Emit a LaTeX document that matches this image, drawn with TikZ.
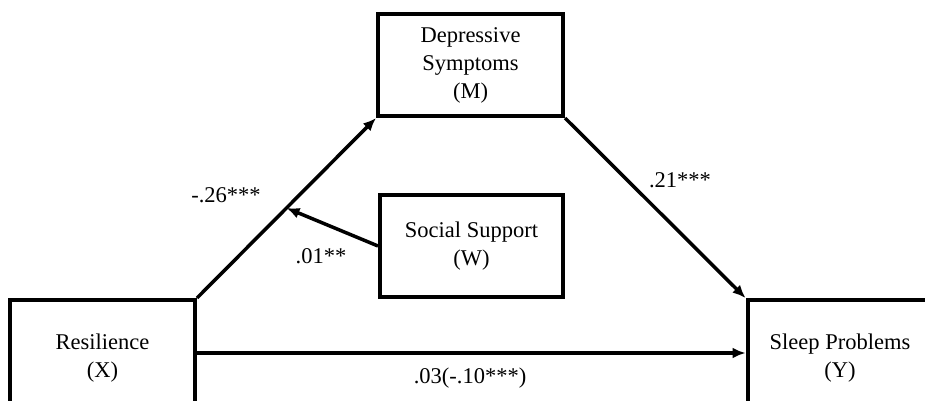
\documentclass[tikz,border=0pt]{standalone}
\usepackage{fontspec}
\setmainfont{Liberation Serif}
\usetikzlibrary{arrows.meta, calc}

\newcommand{\pathfont}{\fontsize{22.5}{28}\selectfont}
\tikzset{
    varbox/.style={draw, line width=4pt, minimum width=185pt, align=center,
        font=\pathfont, inner sep=0pt},
    effect/.style={line width=3.5pt, -{Latex[length=13pt,width=11pt]}},
    coef/.style={font=\pathfont, inner sep=1pt}
}

\begin{document}
\begin{tikzpicture}[x=1pt, y=-1pt]
        % Page frame (pixel grid of the figure)
        \useasboundingbox (0, 0) rectangle (925, 401);

        % --- Variables ---
        \node[varbox, minimum height=116pt] (res) at (102.5, 358) {Resilience\\(X)};
        \node[varbox, minimum height=116pt] (sleep) at (840, 358) {Sleep Problems\\(Y)};
        \node[varbox, minimum height=102pt] (dep) at (470.5, 65) {Depressive\\Symptoms\\(M)};
        \node[varbox, minimum height=102pt, minimum width=183pt] (soc) at (471.5, 246) {Social Support\\(W)};

        % --- Paths ---
        \draw[effect] (res.north east) -- (dep.south west);
        \draw[effect] (dep.south east) -- (sleep.north west);
        \draw[effect] ([yshift=5pt]res.east) -- ([yshift=5pt]sleep.west);
        \coordinate (apath) at ($(res.north east)!0.5!(dep.south west)$);
        \draw[effect] (soc.west) -- (apath);

        % --- Coefficients ---
        \node[coef] (a) at (226, 195) {-.26***};
        \node[coef] (b) at (680, 180) {.21***};
        \node[coef] (w) at (321, 256) {.01**};
        \node[coef] (c) at (470, 378) {.03(-.10***)};
\end{tikzpicture}
\end{document}
